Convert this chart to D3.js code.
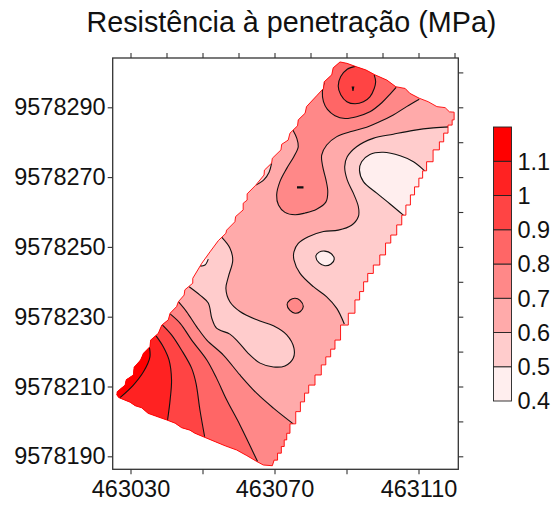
<!DOCTYPE html>
<html><head><meta charset="utf-8">
<style>html,body{margin:0;padding:0;background:#fff}svg{display:block}text{font-family:"Liberation Sans",Arial,sans-serif;fill:#111}</style>
<script src="https://cdn.jsdelivr.net/npm/d3@7"></script></head><body><div id="c"></div>
<script>
const chartTitle="Resistência à penetração (MPa)";
const xBase=463000, yBase=9578000;
const xTop=[30,40,50,60,70,80,90,100,110,120];
const xBottom=[30,50,70,90,110];
const xLabelled=[30,70,110];
const yLeft=[190,210,230,250,270,290];
const yRight=[190,200,210,220,230,240,250,260,270,280,290,300];
const levels=[0.4,0.5,0.6,0.7,0.8,0.9,1,1.1,1.2];
const levelColors=["#ffeeee","#ffcccc","#ffaaaa","#ff8888","#ff6666","#ff4444","#ff2222","#ff0000"];
const legendLabels=["0.4","0.5","0.6","0.7","0.8","0.9","1","1.1"];

// field outline, easting / northing offsets
const outlineLeftBottom=[[88.2,303],[86.3,301.3],[85.9,299.3],[83.8,297.3],[83.6,295.4],[81.7,293.3],[78.9,290.2],[78.5,288.3],[76.6,286.4],[76.4,284.7],[74.3,282.6],[73.8,280.6],[72,279.4],[71.8,277.8],[69.4,275.4],[69.2,274],[67.2,272],[67.1,270.6],[64.8,267.7],[62.4,265.2],[62.4,263.4],[61.3,262.5],[61.3,260.6],[59.2,258.7],[59,257.2],[56.7,254.8],[56.5,253.9],[54.4,251.8],[52.1,248.6],[49.8,245.3],[47.3,241],[47.3,239.6],[45.1,237.7],[44.9,236.2],[43.3,234.3],[42.8,232.9],[41,231],[40.5,229.1],[38.7,227.6],[37.7,225.2],[35.6,223.3],[35.4,221.4],[33.6,219.5],[32.8,217.6],[31,215.5],[30.8,213.3],[28.8,211.9],[28.5,210.4],[26.3,208.5],[26.2,207.6],[26.8,206.8],
[29.9,205.5],[31.3,204.5],[33.1,203.9],[34.9,202.3],[36.8,201.6],[40.1,200.4],[42.4,199.5],[44.2,198.2],[46.5,197.5],[47.9,196.6],[50.7,195.4],[53.5,194.2],[56.3,193],[59.5,191.8],[62.3,190.2],[65.1,188.5],[66.9,187.5],[69.4,187.3],[69.9,188.9]];
const outlineRight=[[69.9,188.9],[71.8,190.9],[72,192.8],[73.4,194.7],[73.4,196.6],[75.2,199.3],[76.6,202.8],[77.8,205.6],[78.9,208.1],[80.1,210.4],[82.4,213.3],[83.6,216.2],[84.9,218.5],[86.3,220.7],[87.3,223.3],[89.4,227.6],[91.6,231],[93.1,234.8],[94.2,237.2],[95.3,240],[96.5,242.4],[98.4,244.8],[100.1,247.7],[101.6,251.1],[103,253.4],[104.9,256.3],[105.8,259.1],[107.2,262],[108.3,264.9],[109.5,267.2],[110.7,269.7],[111.6,271.8],[112.9,274.4],[115.2,277.8],[116.4,280.1],[117.6,282.6],[118.8,284.9],[119.9,286.4]];
const outlineTop=[[119.9,286.4],[119.9,288.6],[118.6,288.7],[117.4,289.9],[115.1,290.2],[112.7,291.6],[110.2,292.6],[107.6,294],[106.3,295.4],[103.7,295.9],[101.2,297.8],[97.9,299.3],[95.4,300.7],[92.8,301.6],[90.1,302.6]];

// open contours; *Out lists the points that close them beyond the field edge
const top09=[[92.7,301.8],[90.2,300.9],[88.4,298.8],[87.7,296.1],[88.4,293.6],[90.1,291.6],[92.4,291],[94.7,291.6],[96.5,293],[97.7,295.4],[98.1,297.3],[97.7,299.3]];
const top09Out=[[95,304]];
const top08=[[83.8,297.1],[83.3,294.5],[83.6,291.6],[84.7,289.4],[86.8,287.6],[89.6,286.8],[92.8,287.3],[96.5,288.7],[99.8,291.3],[102.3,294],[103.8,295.7]];
const top08Out=[[104.9,299.3],[89.6,306.4],[79.9,300.7]];
const top07=[[110.2,292.3],[106.7,290.2],[103,287.8],[99.3,285.9],[95.6,284.3],[91,283],[87.3,281.6],[84.5,279.2],[83.1,276.3],[83.4,273],[84.3,269.2],[84.8,265.8],[84.3,262.9],[81.7,260.8],[78.5,259.7],[75.7,259.2],[72.9,259.9],[71.1,262],[70.6,264.9],[71.5,268.7],[73.4,272.5],[75.4,275.9],[76.6,278.7],[76.2,281.1],[75.1,283.5]];
const top07Out=[[71.5,284.9],[77.1,306.4],[113.2,303.5],[113.2,293.5]];
const right06=[[118.8,284.4],[114.1,284.1],[108.6,283.4],[103,282.3],[97.4,281.1],[92.8,278.7],[90.2,275.8],[89.5,273],[90.2,269.2],[91.9,265.4],[93.3,261.5],[93.3,258.7],[91.4,256.2],[87.7,254.8],[83.6,254.4],[79.4,252.9],[76.6,251],[75.4,248.6],[75.4,246.3],[77.1,242.4],[80.8,238.6],[84.5,235.7],[87.3,232.4],[89.4,227.9]];
const right06Out=[[93.8,226.2],[124.3,280.6],[124.3,284.6]];
const right05=[[111.7,271.8],[108.6,274.4],[104.9,276.1],[100.2,277.1],[96.5,276.5],[94.2,274.4],[93.6,272],[94.7,268.7],[98.4,265.4],[102.1,262.3],[105.8,259.1]];
const right05Out=[[110.4,259.1],[115.9,271.9]];
const blob06=[[55.3,252.8],[57.6,249.7],[58.4,246.2],[57.2,241.5],[56.5,238.1],[57.6,234.3],[60.4,231.5],[65.1,229.1],[69.7,227.4],[73.4,224.8],[75.4,221],[75.2,218.1],[72.9,215.9],[69.7,215.6],[66,216.7],[62.7,219.5],[59.9,222.8],[57.6,225],[53.9,226.7],[52.6,229.5],[51.6,233.9],[49.3,236.2],[46.3,238.6]];
const blob06Out=[[41,246.2]];
const edge06=[[64.8,267.7],[67.1,269.3],[68.5,271.4],[69.2,274]];
const edge06Out=[[63.2,272.5]];
const edge05=[[49.4,244.5],[50.7,244.8],[51.6,246.5]];
const edge05Out=[[47.9,247.7]];
const low07=[[43.3,234.3],[45.6,231.4],[48.4,227.1],[51.2,223.3],[55.8,219],[60.4,213.3],[65.1,208],[69.7,203.8],[75.2,199.3]];
const low07Out=[[79.9,194.7],[71.5,183.2],[21.5,200.4],[21.5,226.3],[35.4,234.8]];
const low08=[[41,230.8],[43.8,228.1],[47,223.3],[51.2,217.6],[53.9,212.4],[56.7,206.2],[60.4,199],[65.3,188.5]];
const low08Out=[[63.2,183.2],[21.5,200.4],[21.5,226.3],[35.4,234.8]];
const low09=[[38.9,227.6],[41.4,224.8],[44.2,220.4],[47,215.2],[48.2,210.9],[49.3,203.2],[50.6,195.6]];
const low09Out=[[49.3,186.1],[21.5,200.4],[21.5,223.3],[35.4,232]];
const low10=[[37.1,224.5],[39.1,221.4],[40.7,217.6],[41.4,211.9],[41,206.1],[40.3,200.4]];
const low10Out=[[38.2,194.7],[21.5,200.4],[21.5,223.3],[32.6,229.1]];
const low11=[[35.2,221.4],[35.4,218.5],[33.6,214.2],[30.8,210.4],[27.1,206.8]];
const low11Out=[[22.9,206.1],[22.9,223.3],[32.6,224.8]];
// closed contours
const spot05=[[81.5,247.4],[82.4,248.5],[84,248.8],[85.7,248.1],[86.6,246.5],[85.7,245.1],[84,244.6],[82.4,245.4]];
const spot07=[[73.5,233.5],[74.3,234.8],[75.7,235.3],[77.1,234.7],[78,232.9],[77.2,231.5],[75.7,231],[74.3,231.8]];
const dash08=[[76.4,267.2],[77.9,267.2],[77.9,266.9],[76.4,266.9]];
const peak10=[[91.6,295.8],[92,295.8],[91.8,294.7]];

const x=d3.scaleLinear().domain([xBase+30,xBase+110]).range([130.5,418.5]);
const y=d3.scaleLinear().domain([yBase+190,yBase+290]).range([456.3,107.3]);
const frame={l:112.7,t:58,r:458.3,b:469.3};
const px=p=>[x(xBase+p[0]),y(yBase+p[1])];
const labelSize="23.5px";

const svg=d3.select("#c").append("svg").attr("width",558).attr("height",506);
svg.append("text").attr("x",291.5).attr("y",32).attr("text-anchor","middle").style("font-size","28.7px").text(chartTitle);

const openLine=d3.line().curve(d3.curveCatmullRom.alpha(0.5));
const closedLine=d3.line().curve(d3.curveCatmullRomClosed.alpha(0.5));
const straight=d3.line().curve(d3.curveLinearClosed);
const plain=d3.line();
const stepped=d3.line().curve(d3.curveStep);
const asL=d=>"L"+d.slice(1);
const outlinePath=plain(outlineLeftBottom.map(px))+asL(stepped(outlineRight.map(px)))+asL(plain(outlineTop.map(px)))+"Z";

svg.append("clipPath").attr("id","field").append("path").attr("d",outlinePath);
const plot=svg.append("g").attr("clip-path","url(#field)");
plot.append("path").attr("d",outlinePath).attr("fill",levelColors[2]);

const regions=[[right06,right06Out,1],[right05,right05Out,0],[blob06,blob06Out,1],[edge06,edge06Out,1],[edge05,edge05Out,0],
 [top07,top07Out,3],[top08,top08Out,4],[top09,top09Out,5],
 [low07,low07Out,3],[low08,low08Out,4],[low09,low09Out,5],[low10,low10Out,6],[low11,low11Out,7]];
regions.forEach(([c,o,l])=>{
  plot.append("path").attr("d",openLine(c.map(px))+o.map(p=>"L"+px(p).join(",")).join("")+"Z").attr("fill",levelColors[l]);
});
const spots=[[spot05,0],[spot07,3],[dash08,4],[peak10,6]];
spots.forEach(([c,l])=>{
  plot.append("path").attr("d",(c.length>4?closedLine:straight)(c.map(px))).attr("fill",levelColors[l]).attr("stroke","#111").attr("stroke-width",1.1);
});
regions.forEach(([c])=>{
  plot.append("path").attr("d",openLine(c.map(px))).attr("fill","none").attr("stroke","#111").attr("stroke-width",1.1);
});
svg.append("path").attr("d",outlinePath).attr("fill","none").attr("stroke","#ff0000").attr("stroke-width",0.9);

// frame and axes
svg.append("rect").attr("x",frame.l).attr("y",frame.t).attr("width",frame.r-frame.l).attr("height",frame.b-frame.t).attr("fill","none").attr("stroke","#333").attr("stroke-width",1.3);
const tf=(g)=>{g.select(".domain").remove();g.selectAll("line").attr("stroke","#333").attr("stroke-width",1.1);g.selectAll("text").style("font-size",labelSize).attr("font-family",null).attr("fill","#111");};
svg.append("g").attr("transform",`translate(0,${frame.t})`).call(d3.axisTop(x).tickValues(xTop.map(v=>xBase+v)).tickSize(5).tickFormat("")).call(tf);
svg.append("g").attr("transform",`translate(0,${frame.b})`).call(d3.axisBottom(x).tickValues(xBottom.map(v=>xBase+v)).tickSize(5).tickPadding(6)
  .tickFormat(d=>xLabelled.includes(d-xBase)?String(d):"")).call(tf);
svg.append("g").attr("transform",`translate(${frame.l},0)`).call(d3.axisLeft(y).tickValues(yLeft.map(v=>yBase+v)).tickSize(5).tickPadding(2).tickFormat(d=>String(d))).call(tf);
svg.append("g").attr("transform",`translate(${frame.r},0)`).call(d3.axisRight(y).tickValues(yRight.map(v=>yBase+v)).tickSize(5).tickFormat("")).call(tf);

// colour key
const ky=d3.scaleLinear().domain([0.4,1.2]).range([401,127]);
const key=svg.append("g");
levelColors.forEach((c,i)=>{
  key.append("rect").attr("x",493.5).attr("width",18).attr("y",ky(levels[i+1])).attr("height",ky(levels[i])-ky(levels[i+1])).attr("fill",c).attr("stroke","#222").attr("stroke-width",0.9);
});
legendLabels.forEach((t,i)=>{
  key.append("text").attr("x",517.5).attr("y",ky(levels[i])).attr("dy","0.36em").style("font-size",labelSize).text(t);
});
</script></body></html>
